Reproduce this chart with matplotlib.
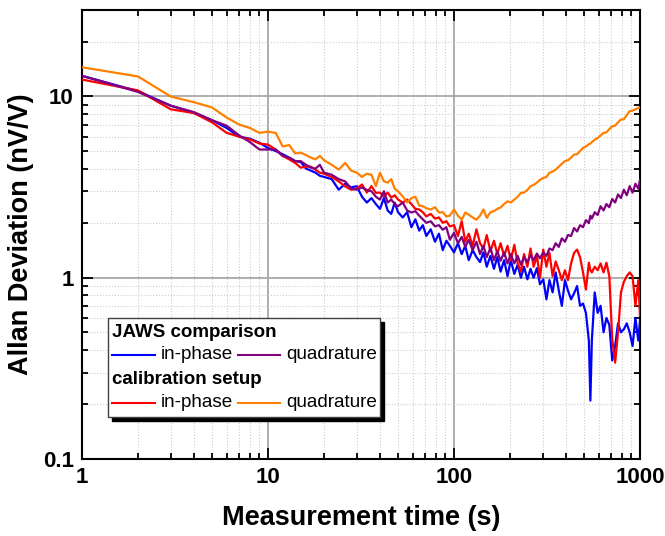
import matplotlib
matplotlib.use('Agg')
import matplotlib.pyplot as plt
from matplotlib.patches import Rectangle
from matplotlib.lines import Line2D
from matplotlib.ticker import LogLocator, NullFormatter

plt.rcParams['font.family'] = ['Liberation Sans', 'DejaVu Sans']

# averaging time (s)
tau = [1, 2, 3, 4, 5, 6, 7, 8, 9, 10,
       11, 12, 13, 14, 15, 16, 17, 18, 19, 20,
       22, 24, 26, 28, 30, 32, 34, 36, 38, 40,
       42, 44, 46, 48, 50, 53, 56, 59, 62, 65,
       68, 71, 75, 79, 83, 87, 91, 95, 100, 105,
       110, 115, 120, 126, 132, 138, 144, 150, 157, 164,
       171, 178, 186, 194, 202, 211, 220, 229, 238, 248,
       258, 268, 279, 290, 302, 314, 326, 339, 352, 366,
       380, 395, 410, 426, 442, 459, 476, 494, 512, 531,
       541, 551, 571, 592, 614, 637, 660, 684, 709, 735,
       762, 790, 819, 849, 880, 912, 945, 979, 1000]

jaws_inphase = [13.0, 10.7, 8.9, 8.1, 7.4, 6.7, 6.0, 5.85, 5.55, 5.2,
                5.0, 4.8, 4.6, 4.4, 4.35, 4.0, 3.9, 3.8, 3.65, 3.6,
                3.5, 3.06, 3.3, 3.15, 3.2, 2.8, 2.6, 2.75, 2.55, 2.4,
                2.75, 2.35, 2.25, 2.6, 2.3, 2.15, 2.3, 1.9, 2.1, 1.82,
                1.95, 1.7, 1.85, 1.58, 1.75, 1.42, 1.6, 1.5, 1.38, 1.55,
                1.35, 1.5, 1.25, 1.42, 1.3, 1.22, 1.38, 1.15, 1.32, 1.12,
                1.3, 1.08, 1.25, 1.02, 1.25, 1.05, 1.18, 1.0, 1.15, 0.98,
                1.12, 1.0, 1.13, 0.92, 0.98, 0.76, 0.97, 0.83, 1.07, 0.85,
                0.7, 0.97, 0.85, 0.76, 0.82, 0.9, 0.7, 0.72, 0.64, 0.45,
                0.21, 0.45, 0.83, 0.64, 0.7, 0.5, 0.6, 0.55, 0.35, 0.42,
                0.56, 0.5, 0.52, 0.56, 0.5, 0.42, 0.6, 0.45, 0.58]

jaws_quad = [13.0, 10.6, 8.9, 8.2, 7.4, 6.9, 6.1, 5.6, 5.1, 5.1,
             5.1, 4.7, 4.6, 4.4, 4.4, 4.2, 4.05, 4.0, 4.2, 3.8,
             3.7, 3.5, 3.4, 3.1, 3.06, 3.15, 3.05, 3.0, 2.8, 2.7,
             3.0, 2.6, 2.7, 2.55, 2.48, 2.6, 2.35, 2.29, 2.33, 2.2,
             2.1, 2.01, 2.05, 1.92, 1.95, 1.84, 1.9, 1.62, 1.77, 1.55,
             1.68, 1.48, 1.62, 1.42, 1.58, 1.35, 1.5, 1.3, 1.46, 1.25,
             1.4, 1.24, 1.38, 1.2, 1.35, 1.2, 1.32, 1.18, 1.3, 1.22,
             1.33, 1.25, 1.36, 1.28, 1.38, 1.32, 1.45, 1.42, 1.55, 1.48,
             1.65, 1.58, 1.72, 1.7, 1.88, 1.8, 1.95, 1.9, 2.08, 2.0,
             2.2, 2.12, 2.3, 2.22, 2.48, 2.35, 2.55, 2.45, 2.72, 2.6,
             2.88, 2.75, 3.06, 2.85, 3.2, 2.95, 3.3, 3.1, 3.47]

cal_inphase = [12.4, 10.8, 8.5, 8.1, 7.2, 6.3, 6.0, 5.8, 5.5, 5.43,
               5.1, 4.7, 4.5, 4.3, 4.05, 4.1, 4.1, 3.95, 3.8, 3.75,
               3.6, 3.4, 3.19, 3.06, 3.1, 3.27, 2.95, 3.2, 2.94, 2.95,
               2.81, 2.95, 2.77, 2.85, 2.7, 2.6, 2.7, 2.55, 2.4, 2.38,
               2.3, 2.18, 2.25, 2.12, 2.15, 2.01, 2.05, 1.92, 1.95, 1.7,
               2.05, 1.58, 1.75, 1.5, 1.85, 1.55, 1.45, 1.72, 1.4, 1.6,
               1.35, 1.55, 1.32, 1.5, 1.25, 1.52, 1.2, 1.08, 1.35, 1.15,
               1.45, 1.15, 1.32, 1.0, 1.43, 1.15, 1.37, 1.02, 1.23, 1.1,
               0.97, 1.1, 0.97, 1.2, 1.37, 1.43, 1.3, 1.07, 0.86, 1.21,
               1.1, 1.07, 1.15, 1.1, 1.2, 1.07, 1.21, 1.02, 0.46, 0.34,
               0.5, 0.83, 0.95, 1.02, 1.07, 1.02, 0.7, 0.97, 0.62]

cal_quad = [14.5, 12.9, 10.0, 9.3, 8.7, 7.65, 7.0, 6.7, 6.3, 6.4,
            6.3, 5.3, 5.4, 4.85, 4.9, 4.75, 4.6, 4.5, 4.7, 4.45,
            4.2, 3.95, 4.3, 3.9, 3.8, 3.6, 3.75, 3.7, 3.2, 3.8,
            3.4, 3.35, 3.5, 3.1, 3.0, 2.81, 2.6, 2.75, 2.8, 2.5,
            2.48, 2.42, 2.38, 2.45, 2.29, 2.3, 2.18, 2.2, 2.38, 2.2,
            2.09, 2.29, 2.23, 2.15, 2.09, 2.2, 2.38, 2.14, 2.3, 2.33,
            2.4, 2.44, 2.55, 2.64, 2.6, 2.7, 2.8, 2.94, 2.95, 3.05,
            3.2, 3.25, 3.35, 3.47, 3.55, 3.6, 3.8, 3.85, 3.95, 4.1,
            4.25, 4.4, 4.45, 4.6, 4.78, 4.8, 5.0, 5.2, 5.3, 5.45,
            5.5, 5.6, 5.78, 5.9, 6.1, 6.3, 6.35, 6.6, 6.85, 6.9,
            7.2, 7.46, 7.5, 7.9, 8.3, 8.35, 8.5, 8.65, 8.7]

x_ticks = [1, 10, 100, 1000]
x_tick_labels = ['1', '10', '100', '1000']
y_ticks = [0.1, 1, 10]
y_tick_labels = ['0.1', '1', '10']

c_blue = '#0000ff'
c_purple = '#800080'
c_red = '#ff0000'
c_orange = '#ff8000'

fig = plt.figure(figsize=(6.65, 5.36), dpi=100)
ax = fig.add_axes([0.1233, 0.1437, 0.8391, 0.8376])

ax.plot(tau, jaws_inphase, color=c_blue, lw=1.6, zorder=3)
ax.plot(tau, cal_inphase, color=c_red, lw=1.6, zorder=3)
ax.plot(tau, jaws_quad, color=c_purple, lw=1.6, zorder=3)
ax.plot(tau, cal_quad, color=c_orange, lw=1.6, zorder=3)

ax.set_xscale('log')
ax.set_yscale('log')
ax.set_xlim(1, 1000)
ax.set_ylim(0.1, 30)

ax.set_xticks(x_ticks)
ax.set_xticklabels(x_tick_labels)
ax.set_yticks(y_ticks)
ax.set_yticklabels(y_tick_labels)
ax.xaxis.set_minor_locator(LogLocator(base=10, subs=range(2, 10)))
ax.yaxis.set_minor_locator(LogLocator(base=10, subs=range(2, 10)))
ax.xaxis.set_minor_formatter(NullFormatter())
ax.yaxis.set_minor_formatter(NullFormatter())

ax.grid(which='major', color='#a8a8a8', lw=1.3, ls='-', zorder=1)
ax.grid(which='minor', color='#cccccc', lw=0.8, ls=':', zorder=1)
ax.set_axisbelow(True)

ax.tick_params(which='both', direction='in', top=True, right=True, width=1.3)
ax.tick_params(which='major', length=8, labelsize=16, pad=6)
ax.tick_params(which='minor', length=4.5)
for lab in ax.get_xticklabels() + ax.get_yticklabels():
    lab.set_fontweight('bold')
for sp in ax.spines.values():
    sp.set_linewidth(1.5)

ax.set_xlabel('Measurement time (s)', fontsize=19.5, fontweight='bold', labelpad=12)
ax.set_ylabel('Allan Deviation (nV/V)', fontsize=19.5, fontweight='bold', labelpad=6)

# legend box with drop shadow, drawn by hand (two-column groups with headers)
bx0, by0, bw, bh = 0.0466, 0.0935, 0.4874, 0.2205
ax.add_patch(Rectangle((bx0 + 0.008, by0 - 0.010), bw, bh, transform=ax.transAxes,
                       facecolor='black', edgecolor='black', zorder=5))
ax.add_patch(Rectangle((bx0, by0), bw, bh, transform=ax.transAxes,
                       facecolor='white', edgecolor='#404040', lw=1.0, zorder=6))

groups = [('JAWS comparison', 0.281, 0.232, c_blue, c_purple),
          ('calibration setup', 0.176, 0.125, c_red, c_orange)]
for title, ty, ly, col1, col2 in groups:
    ax.text(0.054, ty, title, transform=ax.transAxes, fontsize=13.5,
            fontweight='bold', va='center', ha='left', zorder=7)
    ax.add_line(Line2D([0.054, 0.131], [ly, ly], transform=ax.transAxes,
                       color=col1, lw=1.5, zorder=7))
    ax.text(0.141, ly, 'in-phase', transform=ax.transAxes, fontsize=13.6,
            va='center', ha='left', zorder=7)
    ax.add_line(Line2D([0.280, 0.355], [ly, ly], transform=ax.transAxes,
                       color=col2, lw=1.5, zorder=7))
    ax.text(0.366, ly, 'quadrature', transform=ax.transAxes, fontsize=13.6,
            va='center', ha='left', zorder=7)

fig.savefig('out.png', dpi=100)
